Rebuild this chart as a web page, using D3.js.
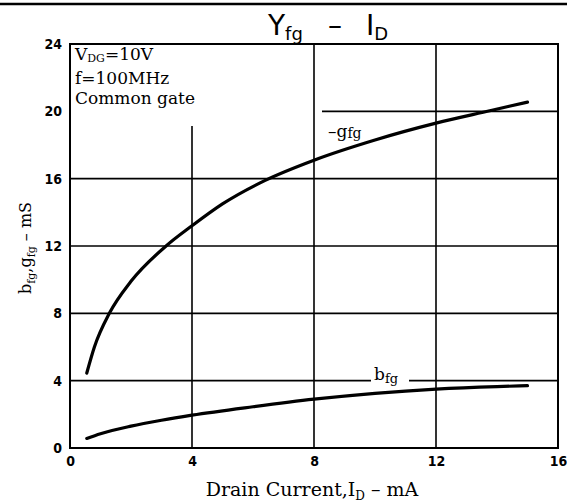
<!DOCTYPE html>
<html><head><meta charset="utf-8">
<script src="https://cdn.jsdelivr.net/npm/d3@7"></script>
<style>body{margin:0;background:#fff}svg{display:block}</style>
</head><body>
<svg id="c" width="567" height="504"></svg>
<script>
const xTicks = [0, 4, 8, 12, 16];
const yTicks = [0, 4, 8, 12, 16, 20, 24];
const gfgI = [0.55, 0.8, 1.29, 2.0, 3.15, 4.0, 5.0, 6.4, 8.0, 10.0, 12.0, 13.8, 15.0];
const gfgV = [4.45, 6.0, 8.0, 9.9, 12.0, 13.2, 14.5, 15.9, 17.1, 18.3, 19.3, 20.05, 20.55];
const bfgI = [0.55, 1, 2, 3, 4, 6, 8, 10, 12, 14, 15];
const bfgV = [0.57, 0.85, 1.3, 1.65, 1.95, 2.45, 2.9, 3.25, 3.5, 3.65, 3.7];

const svg = d3.select("#c");
const x = d3.scaleLinear().domain([0, 16]).range([70, 558]);
const y = d3.scaleLinear().domain([0, 24]).range([448, 44]);

svg.append("line").attr("x1", 0).attr("x2", 567).attr("y1", 4).attr("y2", 4)
  .attr("stroke", "#000").attr("stroke-width", 2.5);

const g = svg.append("g").attr("stroke", "#000").attr("stroke-width", 1.6);
yTicks.filter(v => v > 0 && v < 24).forEach(v => {
  if (v === 20) {
    g.append("line").attr("x1", 322).attr("x2", x(16)).attr("y1", y(v)).attr("y2", y(v));
  } else if (v === 4) {
    g.append("line").attr("x1", x(0)).attr("x2", 371).attr("y1", y(v)).attr("y2", y(v));
    g.append("line").attr("x1", 409).attr("x2", x(16)).attr("y1", y(v)).attr("y2", y(v));
  } else {
    g.append("line").attr("x1", x(0)).attr("x2", x(16)).attr("y1", y(v)).attr("y2", y(v));
  }
});
xTicks.filter(v => v > 0 && v < 16).forEach(v => {
  g.append("line").attr("x1", x(v)).attr("x2", x(v))
    .attr("y1", v === 4 ? 126 : y(24)).attr("y2", y(0));
});
svg.append("rect").attr("x", x(0)).attr("y", y(24)).attr("width", x(16) - x(0)).attr("height", y(0) - y(24))
  .attr("fill", "none").attr("stroke", "#000").attr("stroke-width", 2);

const tickFont = "'DejaVu Sans Condensed', 'DejaVu Sans'";
const ax = svg.append("g").attr("transform", `translate(0,${y(0)})`)
  .call(d3.axisBottom(x).tickValues(xTicks).tickSize(0).tickPadding(8));
ax.select(".domain").remove();
ax.selectAll("text").attr("font-family", tickFont).attr("font-weight", "bold").attr("font-size", 14).attr("fill", "#000");
const ay = svg.append("g").attr("transform", `translate(${x(0) - 2},0)`)
  .call(d3.axisLeft(y).tickValues(yTicks).tickSize(0).tickPadding(6));
ay.select(".domain").remove();
ay.selectAll("text").attr("font-family", tickFont).attr("font-weight", "bold").attr("font-size", 14).attr("fill", "#000");

const line = d3.line().x(d => x(d[0])).y(d => y(d[1])).curve(d3.curveMonotoneX);
svg.append("path").datum(gfgI.map((v, i) => [v, gfgV[i]])).attr("d", line)
  .attr("fill", "none").attr("stroke", "#000").attr("stroke-width", 3.2).attr("stroke-linecap", "round");
svg.append("path").datum(bfgI.map((v, i) => [v, bfgV[i]])).attr("d", line)
  .attr("fill", "none").attr("stroke", "#000").attr("stroke-width", 3.2).attr("stroke-linecap", "round");

const t = svg.append("text").attr("x", 268).attr("y", 35)
  .attr("font-family", "DejaVu Sans").attr("font-size", 28).attr("fill", "#000");
t.append("tspan").text("Y");
t.append("tspan").attr("font-size", 18).attr("dy", 5).text("fg");
t.append("tspan").attr("x", 328).attr("dy", -5).text("\u2013");
t.append("tspan").attr("x", 366).text("I");
t.append("tspan").attr("font-size", 18).attr("dy", 5).text("D");

const serif = "DejaVu Serif";
const a1 = svg.append("text").attr("x", 75).attr("y", 60).attr("font-family", serif).attr("font-size", 17);
a1.append("tspan").text("V");
a1.append("tspan").attr("font-size", 11).attr("dy", 2).text("DG");
a1.append("tspan").attr("dy", -2).text("=10V");
svg.append("text").attr("x", 75).attr("y", 84).attr("font-family", serif).attr("font-size", 17).text("f=100MHz");
svg.append("text").attr("x", 75).attr("y", 104).attr("font-family", serif).attr("font-size", 17).text("Common gate");

const lg = svg.append("text").attr("x", 328).attr("y", 137).attr("font-family", serif).attr("font-size", 17);
lg.append("tspan").text("\u2013g");
lg.append("tspan").attr("font-size", 14).attr("dy", 1).text("fg");
const lb = svg.append("text").attr("x", 374).attr("y", 380).attr("font-family", serif).attr("font-size", 17);
lb.append("tspan").text("b");
lb.append("tspan").attr("font-size", 13).attr("dy", 3).text("fg");

const xt = svg.append("text").attr("x", 312).attr("y", 496).attr("text-anchor", "middle")
  .attr("font-family", serif).attr("font-size", 19);
xt.append("tspan").text("Drain Current,I");
xt.append("tspan").attr("font-size", 12).attr("dy", 4).text("D");
xt.append("tspan").attr("dy", -4).text(" \u2013  mA");

const yt = svg.append("text").attr("transform", "translate(31,248) rotate(-90)").attr("text-anchor", "middle")
  .attr("font-family", serif).attr("font-size", 16);
yt.append("tspan").text("b");
yt.append("tspan").attr("font-size", 11).attr("dy", 4).text("fg");
yt.append("tspan").attr("dy", -4).text(",g");
yt.append("tspan").attr("font-size", 11).attr("dy", 4).text("fg");
yt.append("tspan").attr("dy", -4).text(" \u2013 mS");
</script>
</body></html>
